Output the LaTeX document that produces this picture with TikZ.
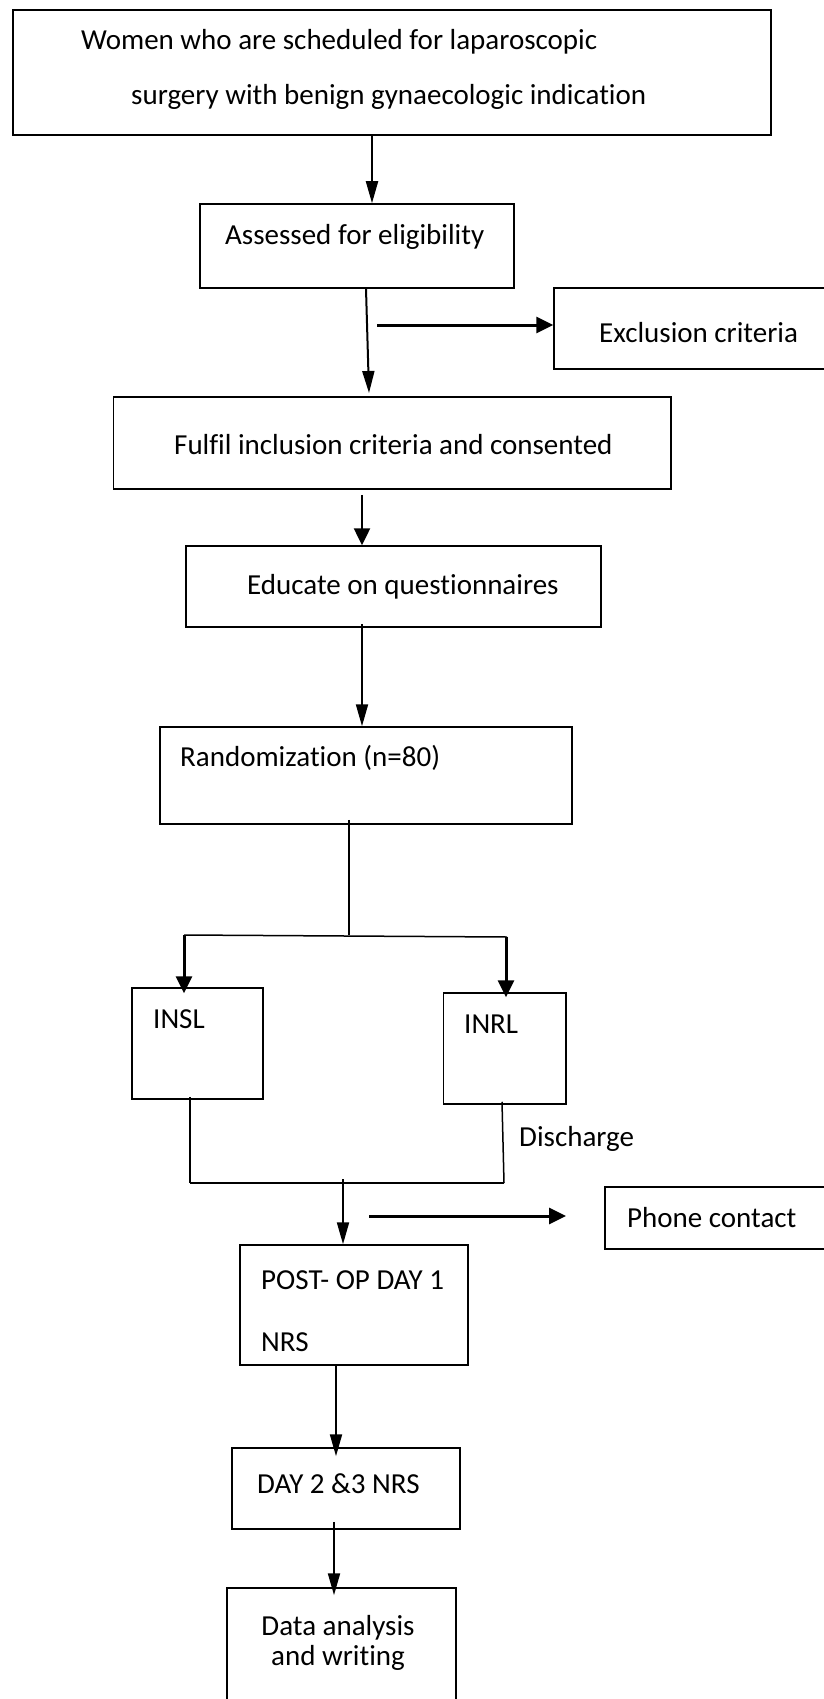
\documentclass[tikz,border=0pt]{standalone}
\usepackage{fontspec}
\setmainfont{Carlito}[Ligatures=NoCommon]
\usetikzlibrary{arrows.meta}
\begin{document}
\begin{tikzpicture}[x=1pt,y=-1pt,
  box/.style={draw, line width=1.5pt, inner sep=0pt, anchor=center},
  txt/.style={inner sep=0pt, anchor=mid west, font=\fontsize{29}{30}\selectfont, yshift=-7pt},
  arr/.style={line width=2pt, -{Triangle[length=22pt,width=12pt]}},
  tarr/.style={line width=3pt, -{Triangle[length=17pt,width=16pt]}},
  ln/.style={line width=1.5pt}]
\clip (0,0) rectangle (824,1699);
\fill[white] (0,0) rectangle (824,1699);

% boxes
\node[box, minimum width=758pt, minimum height=125pt] (top) at (392,72.5) {};
\node[box, minimum width=314pt, minimum height=84pt] (assess) at (357,246) {};
\node[box, minimum width=276pt, minimum height=81pt] (excl) at (692,328.5) {};
\node[box, minimum width=557.5pt, minimum height=92pt] (fulfil) at (392.25,443) {};
\node[box, minimum width=415pt, minimum height=81pt] (educ) at (393.5,586.5) {};
\node[box, minimum width=412pt, minimum height=97pt] (rand) at (366,775.5) {};
\node[box, minimum width=131pt, minimum height=111pt] (insl) at (197.5,1043.5) {};
\node[box, minimum width=122.5pt, minimum height=111pt] (inrl) at (504.75,1048.5) {};
\node[box, minimum width=225pt, minimum height=62pt] (phone) at (717.5,1218) {};
\node[box, minimum width=228pt, minimum height=120pt] (post) at (354,1305) {};
\node[box, minimum width=228pt, minimum height=81pt] (day) at (346,1488.5) {};
\node[box, minimum width=229pt, minimum height=122pt] (data) at (341.5,1649) {};

% texts
\node[txt] (t1) at (81,40) {Women who are scheduled for laparoscopic};
\node[txt] (t2) at (131,95) {surgery with benign gynaecologic indication};
\node[txt] (tassess) at (225,235) {Assessed for eligibility};
\node[txt] (texcl) at (599,333) {Exclusion criteria};
\node[txt] (tfulfil) at (174,445) {Fulfil inclusion criteria and consented};
\node[txt] (teduc) at (247,585) {Educate on questionnaires};
\node[txt] (trand) at (180,757) {Randomization (n=80)};
\node[txt] (tinsl) at (153,1019) {INSL};
\node[txt] (tinrl) at (464,1024) {INRL};
\node[txt] (tdis) at (519,1137) {Discharge};
\node[txt] (tphone) at (627,1218) {Phone contact};
\node[txt] (tpost) at (261,1280) {POST- OP DAY 1};
\node[txt] (tnrs) at (261,1342) {NRS};
\node[txt] (tday) at (257,1484) {DAY 2 \&3 NRS};
\node[inner sep=0pt, align=center, font=\fontsize{29}{30}\selectfont] (tdata) at (338,1643) {Data analysis\\and writing};

% helper coordinates
\coordinate (x1) at (372,0);
\coordinate (x3) at (362,0);
\coordinate (x4) at (362,0);
\coordinate (xs) at (349,0);
\coordinate (xl) at (184,0);
\coordinate (xr) at (506,0);
\coordinate (xl2) at (190,0);
\coordinate (xr2) at (502,0);
\coordinate (xp) at (343,0);
\coordinate (xd) at (336,0);
\coordinate (xe) at (334,0);
\coordinate (a2s) at (366,289);
\coordinate (a2e) at (369,393);
\coordinate (exs) at (377,325);
\coordinate (ph1) at (369,1216);
\coordinate (ph2) at (566,1216);
\coordinate (split) at (349,935);
\coordinate (sl) at (184,935);
\coordinate (sr) at (507,937);
\coordinate (jl) at (190,1183);
\coordinate (jr) at (504,1183);

% connectors
\draw[arr] (top.south -| x1) -- (assess.north -| x1);
\draw[arr] (a2s) -- (a2e);
\draw[tarr] (exs) -- (excl.west |- exs);
\draw[tarr, line width=2.5pt] (fulfil.south -| x3) ++(0,5) -- (educ.north -| x3);
\draw[arr] ([yshift=4pt]educ.south -| x4) -- (rand.north -| x4);
\draw[ln] ([yshift=5pt]rand.south -| xs) -- (split);
\draw[ln] (sl) -- (sr);
\draw[tarr] (sl) -- ([yshift=-6pt]insl.north -| xl);
\draw[tarr] (sr -| xr) -- ([yshift=-5pt]inrl.north -| xr);
\draw[ln] ([yshift=3pt]insl.south -| xl2) -- (jl);
\draw[ln] ([yshift=3pt]inrl.south -| xr2) -- (jr);
\draw[ln] (jl) -- (jr);
\draw[arr] ([yshift=4pt]jl -| xp) -- (post.north -| xp);
\draw[tarr] (ph1) -- (ph2);
\draw[arr] (post.south -| xd) -- ([yshift=-9pt]day.north -| xd);
\draw[arr] ([yshift=8pt]day.south -| xe) -- ([yshift=-8pt]data.north -| xe);
\end{tikzpicture}
\end{document}
